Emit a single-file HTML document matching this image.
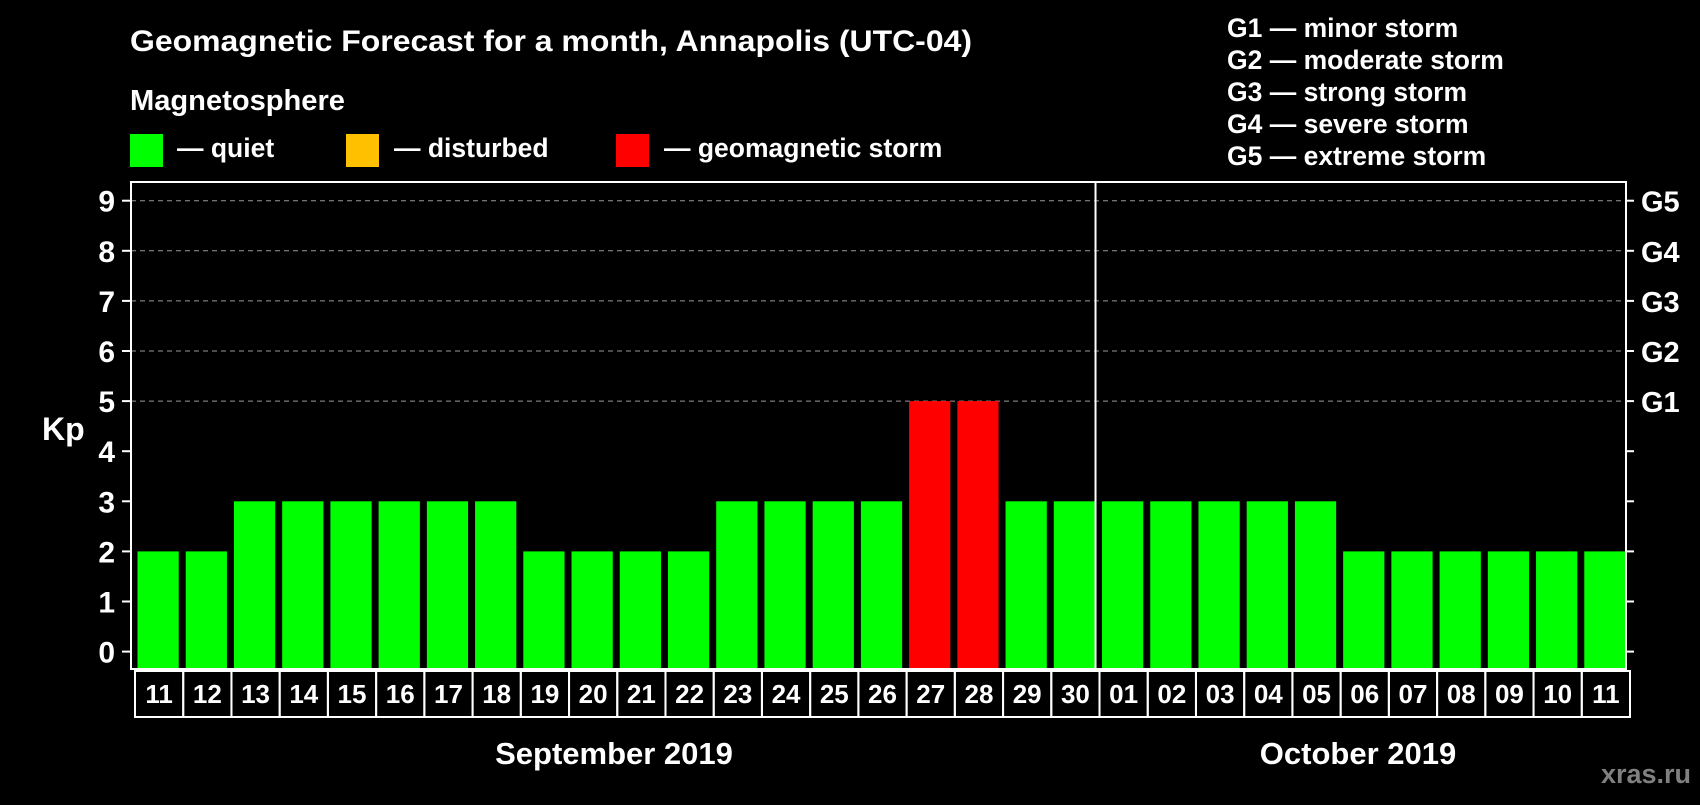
<!DOCTYPE html>
<html><head><meta charset="utf-8"><style>
body{margin:0;background:#000;width:1700px;height:800px;overflow:hidden;font-family:"Liberation Sans",sans-serif;}
svg text{font-family:"Liberation Sans",sans-serif;font-weight:bold;fill:#fff;}
</style></head><body>
<svg id="c" width="1700" height="800" xmlns="http://www.w3.org/2000/svg">
<text x="130" y="51" font-size="30" textLength="842" lengthAdjust="spacingAndGlyphs">Geomagnetic Forecast for a month, Annapolis (UTC-04)</text>
<text x="130" y="110" font-size="29" textLength="215" lengthAdjust="spacingAndGlyphs">Magnetosphere</text>
<rect x="130" y="134" width="33" height="33" fill="#00ff00"/>
<text x="177" y="157" font-size="26.5">— quiet</text>
<rect x="346" y="134" width="33" height="33" fill="#ffc000"/>
<text x="394" y="157" font-size="26.5">— disturbed</text>
<rect x="616" y="134" width="33" height="33" fill="#ff0000"/>
<text x="664" y="157" font-size="26.5">— geomagnetic storm</text>
<g font-size="26.5">
<text x="1227" y="37">G1 — minor storm</text>
<text x="1227" y="69">G2 — moderate storm</text>
<text x="1227" y="101">G3 — strong storm</text>
<text x="1227" y="133">G4 — severe storm</text>
<text x="1227" y="165">G5 — extreme storm</text>
</g>
<text x="42" y="440" font-size="32">Kp</text>
<text x="614" y="764" font-size="31" text-anchor="middle">September 2019</text>
<text x="1358" y="764" font-size="31" text-anchor="middle">October 2019</text>
<text x="1691" y="783" font-size="27" text-anchor="end" style="fill:#808080">xras.ru</text>
<g id="plot"></g>
</svg>
<script>
const days=["11","12","13","14","15","16","17","18","19","20","21","22","23","24","25","26","27","28","29","30","01","02","03","04","05","06","07","08","09","10","11"];
const kp=[2,2,3,3,3,3,3,3,2,2,2,2,3,3,3,3,5,5,3,3,3,3,3,3,3,2,2,2,2,2,2];
const yTicks=[0,1,2,3,4,5,6,7,8,9];
const gLabels=["G1","G2","G3","G4","G5"];
const NS="http://www.w3.org/2000/svg";
const g=document.getElementById('plot');
const L=131,R=1626,T=182,B=669;
const pitch=(R-L)/days.length;
const y=v=>651.6-50.1*v;
const x=i=>L+i*pitch;
function mk(t,a){const e=document.createElementNS(NS,t);for(const k in a)e.setAttribute(k,a[k]);g.appendChild(e);return e;}
yTicks.forEach(v=>{
 if(v>=5){const l=mk('line',{x1:L,x2:R,y1:y(v),y2:y(v),stroke:'#999','stroke-dasharray':'5,4','stroke-width':1});
 
 }
 const t1=mk('line',{x1:122,x2:L,y1:y(v),y2:y(v),stroke:'#fff','stroke-width':2});
 
 
 const t2=mk('line',{x1:R,x2:1634,y1:y(v),y2:y(v),stroke:'#fff','stroke-width':2});
 
 
 const tx=mk('text',{x:115,y:y(v)+11,'font-size':30,'text-anchor':'end'});tx.textContent=v;
 
 
});
gLabels.forEach((s,i)=>{const tx=mk('text',{x:1641,y:y(5+i)+11,'font-size':29});tx.textContent=s;
 
 });
kp.forEach((v,i)=>{
 const col=v>=5?'#ff0000':(v>=4?'#ffc000':'#00ff00');
 const r=mk('rect',{x:x(i)+6.5,y:y(v),width:pitch-7,height:B-y(v),fill:col});
 
 
 const b=mk('rect',{x:x(i)+4,y:671,width:pitch,height:46,fill:'none',stroke:'#fff','stroke-width':2});
 
 
 const tx=mk('text',{x:x(i)+4+pitch/2,y:703,'font-size':26,'text-anchor':'middle'});tx.textContent=days[i];
 
 
});
const f=mk('rect',{x:L,y:T,width:R-L,height:B-T,fill:'none',stroke:'#fff','stroke-width':2});


const sep=mk('line',{x1:x(20),x2:x(20),y1:T,y2:B,stroke:'#fff','stroke-width':2});


</script>
</body></html>
